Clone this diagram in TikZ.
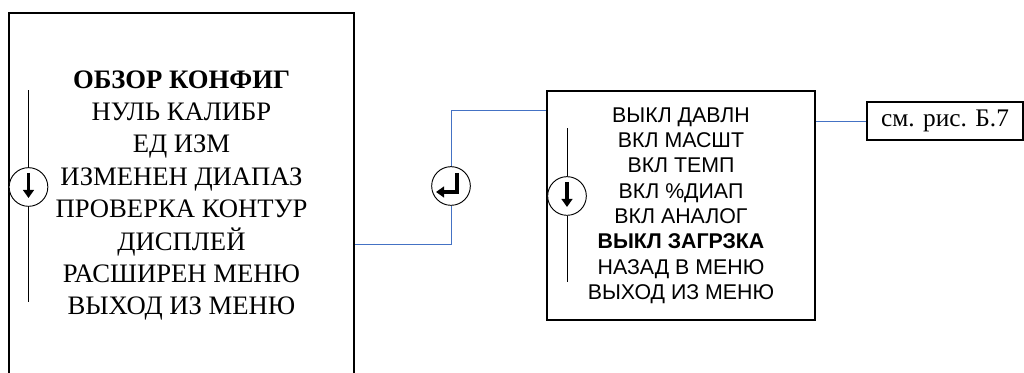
\documentclass[tikz,border=0pt]{standalone}
\usepackage{fontspec}
\setmainfont{Liberation Serif}
\setsansfont{Liberation Sans}
\usetikzlibrary{arrows.meta}
\definecolor{linkblue}{RGB}{68,114,196}
\tikzset{x=0.75pt, y=-0.75pt, >={Triangle[length=6pt, width=8pt]}}
\tikzstyle{menu} = [draw, rectangle, line width=2pt, align=center, inner sep=0pt]
\tikzstyle{knob} = [draw, fill=white, circle, minimum size=29pt, inner sep=0pt, line width=0.7pt]
\tikzstyle{rail} = [draw, line width=0.6pt]
\tikzstyle{glyph} = [line width=2.6pt, ->]
\tikzstyle{link} = [draw, linkblue, line width=0.7pt]
\tikzstyle{seebox} = [draw, rectangle, line width=0.9pt, minimum width=117pt, minimum height=28.5pt, font=\fontsize{19}{19}\selectfont]

\begin{document}
\begin{tikzpicture}
	\useasboundingbox (0,0) rectangle (1024,373);
	\clip (0,0) rectangle (1024,373);

	\node [menu, minimum width=258.75pt, minimum height=273.75pt, font=\fontsize{20}{24.3}\selectfont] (config) at (181.5,195.5) {\textbf{ОБЗОР КОНФИГ}\\НУЛЬ КАЛИБР\\ЕД ИЗМ\\ИЗМЕНЕН ДИАПАЗ\\ПРОВЕРКА КОНТУР\\ДИСПЛЕЙ\\РАСШИРЕН МЕНЮ\\ВЫХОД ИЗ МЕНЮ};
	\node [menu, minimum width=201pt, minimum height=171.75pt, font=\fontsize{16}{19}\sffamily] (options) at (681,205.5) {ВЫКЛ ДАВЛН\\ВКЛ МАСШТ\\ВКЛ ТЕМП\\ВКЛ \%ДИАП\\ВКЛ АНАЛОГ\\\textbf{ВЫКЛ ЗАГРЗКА}\\НАЗАД В МЕНЮ\\ВЫХОД ИЗ МЕНЮ};
	\node [seebox] (seefig) at (945,121) {см. рис. Б.7};

	% scroll marks
	\node [knob] (scrollA) at (28.5,187) {};
	\draw [rail] (scrollA.north) -- ++(0,-77.5);
	\draw [rail] (scrollA.south) -- ++(0,95.5);
	\draw [glyph] (scrollA.center) ++(0,-14) -- ++(0,25);
	\node [knob] (scrollB) at (567,196) {};
	\draw [rail] (scrollB.north) -- ++(0,-48.5);
	\draw [rail] (scrollB.south) -- ++(0,66.5);
	\draw [glyph] (scrollB.center) ++(0,-14) -- ++(0,25);

	% enter key
	\node [knob] (enter) at (451,186) {};
	\draw [glyph] (enter.center) ++(6,-13) -- ++(0,19) -- ++(-21,0);

	\draw [link] ([yshift=-36.4pt]config.east) -| (enter.south);
	\draw [link] (enter.north) |- ([yshift=70.9pt]options.west);
	\draw [link] (options.east |- seefig.west) -- (seefig.west);
\end{tikzpicture}
\end{document}
